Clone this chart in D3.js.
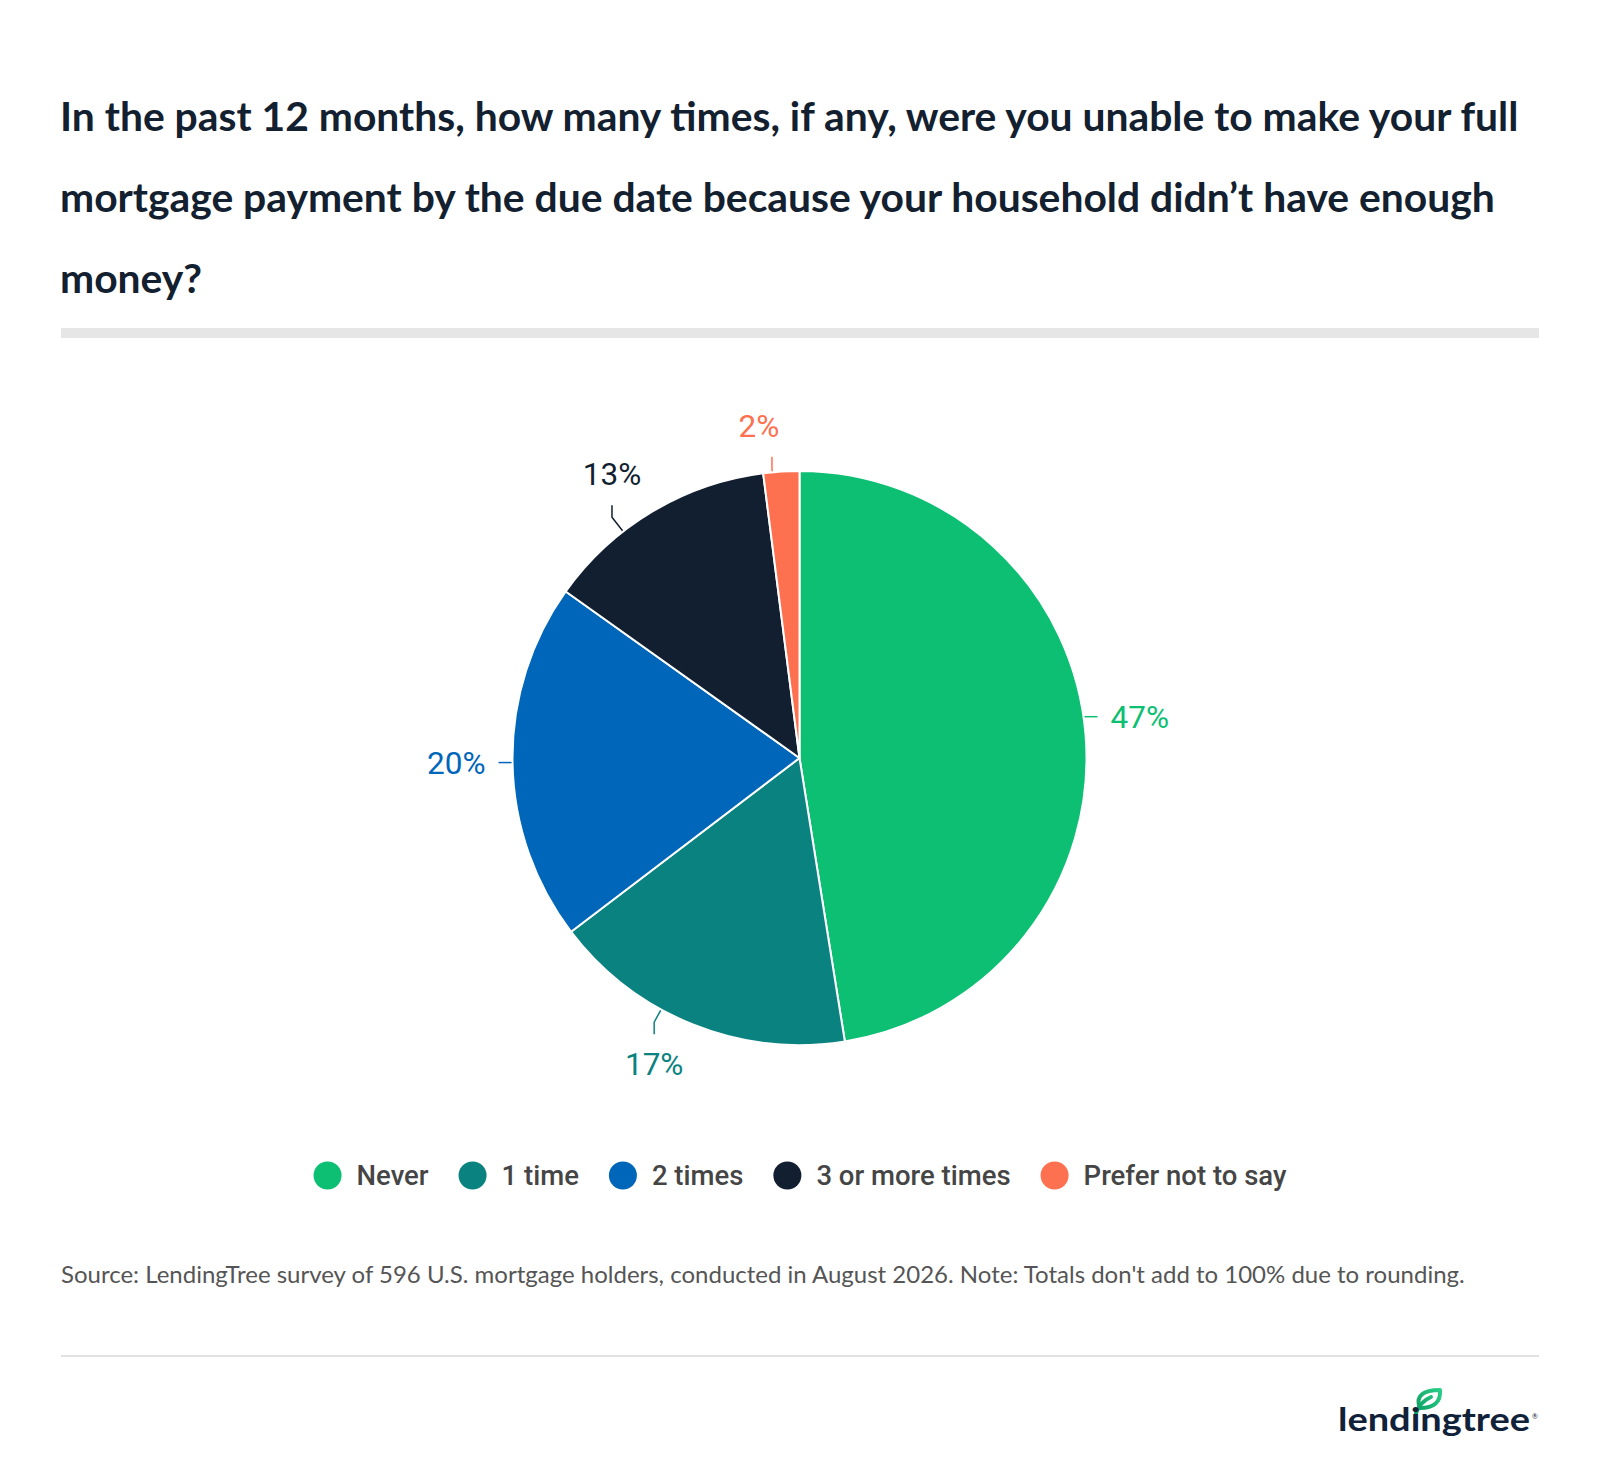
<!DOCTYPE html>
<html>
<head>
<meta charset="utf-8">
<script src="https://cdn.jsdelivr.net/npm/d3@7"></script>
<style>
  html, body { margin: 0; padding: 0; background: #ffffff; }
  svg { display: block; }
</style>
</head>
<body>
<div id="chart"></div>
<script>
// ---------- data ----------
const categories = ["Never", "1 time", "2 times", "3 or more times", "Prefer not to say"];
const values = [47, 17, 20, 13, 2];
const colors = ["#0cbf73", "#0a827f", "#0066b9", "#121f30", "#fe7150"];
const valueLabels = values.map(v => v + "%");
const titleLines = [
  "In the past 12 months, how many times, if any, were you unable to make your full",
  "mortgage payment by the due date because your household didn\u2019t have enough",
  "money?"
];
const sourceText = "Source: LendingTree survey of 596 U.S. mortgage holders, conducted in August 2026. Note: Totals don't add to 100% due to rounding.";

// ---------- layout / style ----------
const W = 1600, H = 1480;
const cx = 799.5, cy = 758, R = 287;
const labelMode = ["side", "crook", "side", "crook", "crook"];
const labelNudgeDeg = [-3.7, 7.0, 0, -7.0, -1.8];
const labelTextDx = [0, 0, 0, 0, -13];

const svg = d3.select("#chart").append("svg")
  .attr("width", W).attr("height", H);

svg.append("rect").attr("width", W).attr("height", H).attr("fill", "#fff");

// title
const title = svg.append("text")
  .attr("font-family", "Lato, sans-serif")
  .attr("font-weight", 700)
  .attr("font-size", 40.8)
  .attr("fill", "#13202f");
titleLines.forEach((t, i) => {
  title.append("tspan").attr("x", 60).attr("y", 130.5 + i * 81).text(t);
});

// divider
svg.append("rect").attr("x", 61).attr("y", 328).attr("width", 1478).attr("height", 10).attr("fill", "#e6e6e6");

// pie
const pie = d3.pie().sort(null).value(d => d)(values);
const arc = d3.arc().innerRadius(0).outerRadius(R);
const g = svg.append("g").attr("transform", `translate(${cx},${cy})`);
g.selectAll("path.slice").data(pie).join("path")
  .attr("class", "slice")
  .attr("d", arc)
  .attr("fill", (d, i) => colors[i])
  .attr("stroke", "#ffffff")
  .attr("stroke-width", 2)
  .attr("stroke-linejoin", "round");

// labels + connectors
pie.forEach((d, i) => {
  const a = (d.startAngle + d.endAngle) / 2 + labelNudgeDeg[i] * Math.PI / 180;
  const s = Math.sin(a), c = -Math.cos(a);
  const P = [s * (R + 1), c * (R + 1)];
  let pts, tx, ty, anchor;
  if (labelMode[i] === "side") {
    const dir = s >= 0 ? 1 : -1;
    const Q = [P[0] + dir * 13, P[1]];
    pts = [P, Q];
    tx = Q[0] + dir * 13; ty = Q[1] + 11;
    anchor = dir > 0 ? "start" : "end";
  } else {
    const len = 28 * Math.abs(s);
    const Q = [P[0] + s * len, P[1] + c * len];
    const vdir = c < 0 ? -1 : 1;
    const Rr = [Q[0], Q[1] + vdir * 12];
    pts = [P, Q, Rr];
    tx = Rr[0] + labelTextDx[i];
    ty = vdir < 0 ? Rr[1] - 20 : Rr[1] + 41;
    anchor = "middle";
  }
  g.append("path")
    .attr("d", d3.line()(pts))
    .attr("fill", "none")
    .attr("stroke", colors[i])
    .attr("stroke-width", 1.5);
  g.append("text")
    .attr("x", tx).attr("y", ty)
    .attr("text-anchor", anchor)
    .attr("font-family", "Roboto, sans-serif")
    .attr("font-size", 31.5)
    .attr("fill", colors[i])
    .text(valueLabels[i]);
});

// legend
const legend = svg.append("g");
const items = legend.selectAll("g").data(categories).join("g");
items.append("circle").attr("r", 14).attr("cx", 0).attr("cy", 0)
  .attr("fill", (d, i) => colors[i]);
items.append("text").attr("x", 29).attr("y", 0).attr("dy", "0.355em")
  .attr("font-family", "Roboto, sans-serif")
  .attr("font-weight", 500)
  .attr("font-size", 27.5)
  .attr("fill", "#454545")
  .text(d => d);
const gap = 44;
const widths = [];
items.each(function (d, i) {
  const tw = d3.select(this).select("text").node().getComputedTextLength();
  widths.push(29 + tw);
});
const total = widths.reduce((s, w) => s + w, 0) + gap * (categories.length - 1) + 14;
let startX = 800 - total / 2 + 14;
items.attr("transform", (d, i) => {
  const x = startX;
  startX += widths[i] + gap;
  return `translate(${x},1175.5)`;
});

// source
svg.append("text")
  .attr("x", 61).attr("y", 1283)
  .attr("font-family", "Lato, sans-serif")
  .attr("font-size", 24)
  .attr("fill", "#555555")
  .text(sourceText);

// bottom rule
svg.append("rect").attr("x", 61).attr("y", 1355).attr("width", 1478).attr("height", 2).attr("fill", "#e2e2e2");

// logo
const logo = svg.append("g");
const grad = svg.append("defs").append("linearGradient").attr("id", "leafGrad")
  .attr("gradientUnits", "userSpaceOnUse")
  .attr("x1", 1414).attr("y1", 1412).attr("x2", 1442).attr("y2", 1389);
grad.append("stop").attr("offset", "0").attr("stop-color", "#0a9b60");
grad.append("stop").attr("offset", "1").attr("stop-color", "#2bd08a");
logo.append("path")
  .attr("d", "M1420,1408 C1415,1396 1423,1390 1440,1390 C1441,1402 1434,1408 1420,1408 Z")
  .attr("fill", "none").attr("stroke", "url(#leafGrad)").attr("stroke-width", 4).attr("stroke-linejoin", "round");
logo.append("path")
  .attr("d", "M1416,1413 C1419,1405 1424,1400 1431,1397")
  .attr("stroke", "url(#leafGrad)").attr("stroke-width", 4).attr("fill", "none").attr("stroke-linecap", "round");
logo.append("text")
  .attr("x", 1338).attr("y", 1431)
  .attr("font-family", "Lato, sans-serif")
  .attr("font-weight", 700)
  .attr("font-size", 33)
  .attr("textLength", 192)
  .attr("lengthAdjust", "spacingAndGlyphs")
  .attr("fill", "#10213a")
  .text("lendingtree");
logo.append("text")
  .attr("x", 1532).attr("y", 1419)
  .attr("font-family", "Lato, sans-serif")
  .attr("font-size", 7)
  .attr("fill", "#10213a")
  .text("®");
</script>
</body>
</html>
